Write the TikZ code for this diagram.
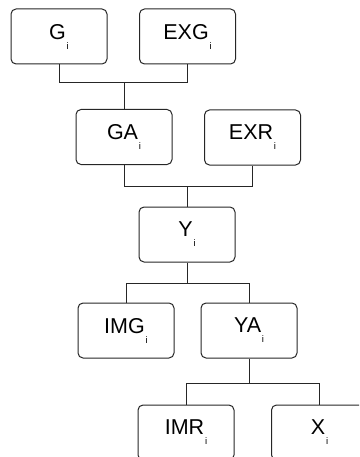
\documentclass[tikz,border=0pt]{standalone}
\usepackage{fontspec}
\setmainfont{Liberation Sans}
\newcommand\subi{\hspace{0.8pt}\raisebox{-10pt}{\fontsize{9.5}{10}\selectfont i}}
\begin{document}
\begin{tikzpicture}[x=1pt,y=-1pt,
  box/.style={draw=black!85, line width=1pt, rounded corners=5pt, minimum width=96pt, minimum height=55pt, inner sep=0pt, font=\fontsize{21.5}{22}\selectfont},
  conn/.style={draw=black!85, line width=1pt}]
\useasboundingbox (0,0) rectangle (359,457);
\clip (0,0) rectangle (359,457);
\node[box] (G)   at (59,36.5)    {G\subi};
\node[box] (EXG) at (187.5,36.5) {EXG\subi};
\node[box] (GA)  at (124,137)    {GA\subi};
\node[box] (EXR) at (252.5,137.5){EXR\subi};
\node[box] (Y)   at (187,234.5)  {Y\subi};
\node[box] (IMG) at (126,330.5)  {IMG\subi};
\node[box] (YA)  at (249,330.5)  {YA\subi};
\node[box] (IMR) at (186,432.5)  {IMR\subi};
\node[box] (X)   at (319.5,432.5){X\subi};
\coordinate (j1) at (0,83);
\coordinate (j2) at (0,186);
\coordinate (j3) at (0,283);
\coordinate (j4) at (0,383);
\draw[conn] (G.south) -- (G.south |- j1) -- (EXG.south |- j1) -- (EXG.south);
\draw[conn] (GA.north) -- (GA.north |- j1);
\draw[conn] (GA.south) -- (GA.south |- j2) -- (EXR.south |- j2) -- (EXR.south);
\draw[conn] (Y.north) -- (Y.north |- j2);
\draw[conn] (IMG.north) -- (IMG.north |- j3) -- (YA.north |- j3) -- (YA.north);
\draw[conn] (Y.south) -- (Y.south |- j3);
\draw[conn] (IMR.north) -- (IMR.north |- j4) -- (X.north |- j4) -- (X.north);
\draw[conn] (YA.south) -- (YA.south |- j4);
\end{tikzpicture}
\end{document}
